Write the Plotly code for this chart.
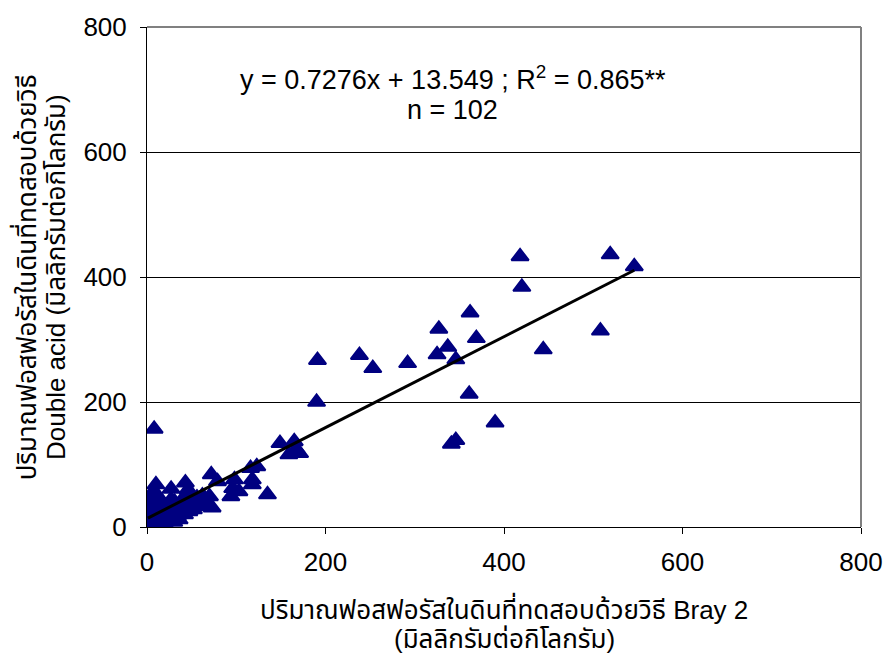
import plotly.graph_objects as go

# Bray 2 P (mg/kg) vs Double acid P (mg/kg), n = 102
bray2 = [
    8, 418, 519, 546, 420, 362, 327, 369, 508, 444,
    337, 325, 346, 361, 390, 191, 238, 253, 292, 190,
    341, 346, 149, 165, 159, 171, 167, 135, 123, 116,
    118, 118, 98, 96, 94, 72, 79, 70, 64, 73,
    103, 10, 27, 43, 56, 46, 27, 9,
    2, 3, 4, 5, 2, 6, 7, 8, 5, 9,
    10, 11, 12, 13, 14, 15, 16, 17, 18, 19,
    20, 21, 22, 24, 25, 26, 28, 29, 30, 31,
    33, 34, 36, 37, 39, 40, 42, 44, 45, 47,
    49, 50, 52, 54, 57, 60, 62, 65, 3, 6,
    12, 1, 4, 8,
]
double_acid = [
    157, 433, 436, 417, 384, 343, 317, 302, 314, 284,
    288, 276, 268, 213, 167, 267, 275, 254, 262, 200,
    133, 139, 134, 137, 116, 118, 125, 52, 97, 94,
    76, 68, 76, 62, 49, 84, 73, 49, 36, 31,
    57, 68, 61, 71, 47, 60, 44, 45,
    5, 12, 20, 28, 35, 8, 15, 25, 42, 3,
    12, 20, 33, 6, 18, 28, 10, 40, 22, 14,
    4, 30, 18, 10, 25, 35, 15, 22, 8, 40,
    27, 18, 12, 33, 24, 45, 20, 30, 38, 25,
    52, 35, 28, 42, 33, 40, 50, 45, 48, 55,
    50, 2, 0, 1,
]

slope = 0.7276
intercept = 13.549
x_fit = [min(bray2), max(bray2)]
y_fit = [slope * v + intercept for v in x_fit]

y_ticks = [0, 200, 400, 600, 800]
x_ticks = [0, 200, 400, 600, 800]

eq_line1 = "y = 0.7276x + 13.549 ; R<sup>2</sup> = 0.865**"
eq_line2 = "n = 102"
x_title = ["ปริมาณฟอสฟอรัสในดินที่ทดสอบด้วยวิธี Bray 2", "(มิลลิกรัมต่อกิโลกรัม)"]
y_title = ["ปริมาณฟอสฟอรัสในดินที่ทดสอบด้วยวิธี", "Double acid (มิลลิกรัมต่อกิโลกรัม)"]

FONT = "Liberation Sans, Arial, Noto Sans Thai, Tahoma, sans-serif"

fig = go.Figure()
fig.add_trace(go.Scatter(
    x=bray2, y=double_acid, mode="markers",
    marker=dict(symbol="triangle-up", size=15, color="#000080",
                line=dict(width=2, color="#000080")),
    showlegend=False, hoverinfo="x+y",
))
fig.add_trace(go.Scatter(
    x=x_fit, y=y_fit, mode="lines",
    line=dict(color="black", width=3),
    showlegend=False, hoverinfo="skip",
))

W_PLOT = 722.0
H_PLOT = 502.0

def px_x(p):
    return (p - 147) / W_PLOT

def px_y(p):
    return (527.5 - p) / H_PLOT

fig.update_layout(
    width=895, height=655,
    margin=dict(l=147, r=26, t=25, b=128),
    paper_bgcolor="white", plot_bgcolor="white",
    font=dict(family=FONT, size=26, color="black"),
    xaxis=dict(
        range=[0, 800], tickvals=x_ticks, showgrid=False, zeroline=False,
        showline=True, linecolor="black", linewidth=1,
        ticks="outside", ticklen=6, tickcolor="black",
        tickfont=dict(size=26), ticklabelstandoff=6,
    ),
    yaxis=dict(
        range=[0, 800], tickvals=y_ticks, showgrid=True, gridcolor="black",
        gridwidth=1, zeroline=False,
        showline=True, linecolor="black", linewidth=1,
        ticks="outside", ticklen=6, tickcolor="black",
        tickfont=dict(size=26), ticklabelstandoff=8,
    ),
    shapes=[
        dict(type="line", xref="paper", yref="paper", x0=0, x1=1, y0=1, y1=1,
             line=dict(color="#808080", width=2), layer="above"),
        dict(type="line", xref="paper", yref="paper", x0=1, x1=1, y0=0, y1=1,
             line=dict(color="#808080", width=2), layer="above"),
    ],
    annotations=[
        dict(text=eq_line1, xref="paper", yref="paper", x=px_x(456), y=px_y(77),
             xanchor="center", yanchor="middle", showarrow=False, font=dict(size=27)),
        dict(text=eq_line2, xref="paper", yref="paper", x=px_x(456), y=px_y(109),
             xanchor="center", yanchor="middle", showarrow=False, font=dict(size=27)),
        dict(text=x_title[0], xref="paper", yref="paper", x=0.5, y=px_y(609),
             xanchor="center", yanchor="middle", showarrow=False, font=dict(size=26)),
        dict(text=x_title[1], xref="paper", yref="paper", x=0.5, y=px_y(640),
             xanchor="center", yanchor="middle", showarrow=False, font=dict(size=26)),
        dict(text=y_title[0], xref="paper", yref="paper", x=px_x(24), y=0.5,
             textangle=-90, xanchor="center", yanchor="middle", showarrow=False,
             font=dict(size=26)),
        dict(text=y_title[1], xref="paper", yref="paper", x=px_x(55), y=0.5,
             textangle=-90, xanchor="center", yanchor="middle", showarrow=False,
             font=dict(size=26)),
    ],
)

fig.write_html("out.html")
